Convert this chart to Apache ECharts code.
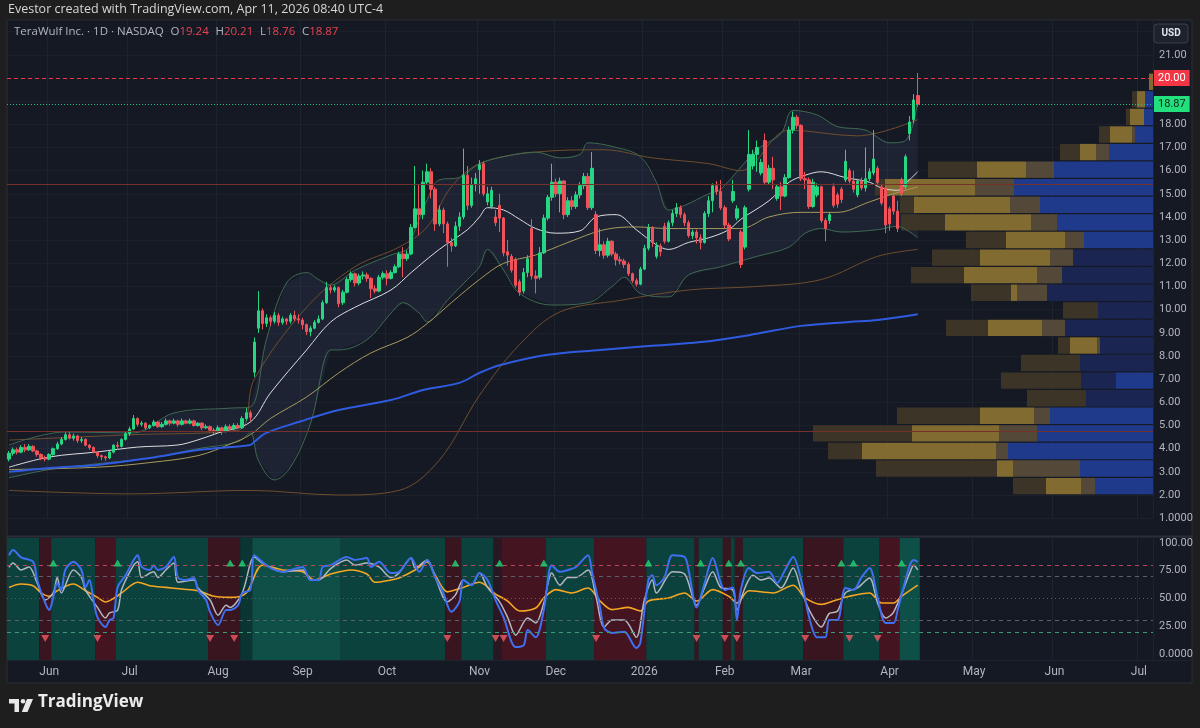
<!DOCTYPE html>
<html><head><meta charset="utf-8">
<script src="https://cdn.jsdelivr.net/npm/echarts@6/dist/echarts.min.js"></script>
<style>html,body{margin:0;padding:0;background:#1e1e1e;}#c{width:1200px;height:728px;}</style>
</head><body><div id="c"></div>
<script>
// ---------- DATA ----------
const holidays = ['2025-05-26','2025-06-19','2025-07-04','2025-09-01','2025-11-27','2025-12-25','2026-01-01','2026-01-19','2026-02-16','2026-04-03','2026-05-25','2026-06-19','2026-07-03'];
const firstDay = '2025-05-16';
const totalSlots = 285;
const monthNames = ['Jan','Feb','Mar','Apr','May','Jun','Jul','Aug','Sep','Oct','Nov','Dec'];

// [open, close, low, high]
const candles = [
[3.55,3.80,3.45,3.90],[3.80,3.95,3.70,4.05],[3.95,3.85,3.75,4.05],[3.85,4.05,3.80,4.15],[4.05,3.95,3.85,4.20],
[3.95,4.10,3.90,4.20],[4.10,3.90,3.85,4.15],[3.90,3.75,3.65,3.95],[3.75,3.60,3.50,3.80],[3.60,3.55,3.45,3.70],
[3.55,3.75,3.50,3.80],[3.75,4.00,3.70,4.05],[4.00,4.20,3.95,4.30],[4.20,4.40,4.15,4.50],[4.40,4.60,4.35,4.70],
[4.60,4.45,4.40,4.75],[4.45,4.55,4.35,4.65],[4.55,4.35,4.25,4.60],[4.35,4.40,4.25,4.50],[4.40,4.15,4.10,4.45],
[4.15,4.05,3.95,4.20],[4.05,3.85,3.80,4.10],[3.85,3.70,3.60,3.90],[3.70,3.65,3.50,3.75],[3.65,3.60,3.48,3.70],
[3.60,3.85,3.55,3.90],[3.85,4.15,3.80,4.20],[4.15,4.10,4.00,4.30],[4.10,4.40,4.05,4.45],[4.40,4.65,4.35,4.75],
[4.65,4.85,4.55,4.95],[4.85,5.30,4.80,5.45],[5.30,5.05,4.95,5.35],[5.05,5.10,4.95,5.20],[5.10,4.90,4.80,5.15],
[4.90,5.00,4.85,5.05],[5.00,5.15,4.95,5.25],[5.15,4.95,4.90,5.20],[4.95,5.05,4.90,5.15],[5.05,5.20,5.00,5.30],
[5.20,5.10,5.00,5.25],[5.10,5.20,5.05,5.30],[5.20,5.05,4.95,5.25],[5.05,5.20,5.00,5.30],[5.20,5.10,5.05,5.25],
[5.10,5.20,5.05,5.30],[5.20,5.00,4.95,5.25],[5.00,5.10,4.95,5.15],[5.10,4.90,4.80,5.15],[4.90,4.95,4.85,5.05],
[4.95,4.80,4.70,5.00],[4.80,4.75,4.65,4.90],[4.75,4.90,4.70,5.00],[4.90,4.75,4.60,4.95],[4.75,4.95,4.70,5.05],
[4.95,4.85,4.80,5.05],[4.85,5.00,4.80,5.10],[5.00,4.90,4.85,5.10],[4.90,5.30,4.85,5.40],[5.30,5.55,5.20,5.75],
[5.55,5.35,5.20,5.65],
[7.30,8.60,7.10,8.80],[9.20,9.95,9.00,10.80],[9.95,9.40,9.15,10.05],[9.40,9.65,9.25,9.80],[9.65,9.50,9.30,9.75],
[9.50,9.75,9.40,9.90],[9.75,9.45,9.30,9.85],[9.45,9.60,9.35,9.70],[9.60,9.50,9.35,9.65],[9.50,9.75,9.40,9.85],
[9.75,9.60,9.50,9.95],[9.60,9.55,9.40,9.80],[9.55,9.35,9.15,9.65],[9.35,9.05,8.90,9.40],[9.05,9.20,8.85,9.30],
[9.20,9.45,9.15,9.55],[9.45,9.60,9.40,9.75],
[9.60,10.30,9.55,10.40],[10.30,10.95,10.25,11.20],[10.95,10.85,10.70,11.05],[10.85,10.95,10.75,11.05],[10.95,10.25,10.10,11.00],
[10.30,10.75,10.20,10.85],[10.75,11.30,10.70,11.40],[11.30,11.55,11.20,11.65],[11.55,11.15,11.00,11.60],[11.15,11.45,11.05,11.55],
[11.45,11.50,11.30,11.65],[11.50,11.35,11.20,11.60],[11.35,10.90,10.50,11.40],[10.90,10.80,10.70,11.05],[10.80,11.40,10.75,11.50],
[11.40,11.55,11.30,11.65],[11.55,11.35,11.05,11.70],[11.35,11.60,11.30,11.70],[11.60,11.85,11.55,11.95],[11.85,12.40,11.80,12.50],
[12.40,12.20,11.40,12.70],[12.20,12.40,12.10,12.55],
[12.40,13.55,12.35,13.70],[13.55,14.35,13.50,16.20],[14.35,14.10,13.20,15.40],[14.10,15.50,13.90,16.00],[15.50,15.95,15.40,16.30],
[15.95,15.20,14.80,16.10],[15.20,13.70,13.40,15.30],[13.70,14.30,13.60,14.50],[14.30,13.70,13.30,14.40],[13.70,12.90,11.85,13.80],
[12.90,12.75,12.50,13.10],[12.75,13.60,12.70,13.80],[13.60,14.00,13.40,14.20],[14.00,15.80,13.90,16.95],[15.80,14.50,14.30,16.20],
[14.50,15.40,14.40,15.70],[15.40,15.65,15.10,15.90],[16.05,16.25,15.00,16.45],[16.30,15.00,14.90,16.40],[14.65,15.00,14.50,15.30],
[14.45,15.15,14.35,15.30],[14.00,13.75,13.60,14.30],[14.50,13.95,13.35,15.00],[13.95,12.45,12.30,14.00],[12.50,12.35,11.90,13.00],
[12.30,11.70,11.60,12.40],[12.15,11.05,10.95,12.25],[11.20,10.75,10.60,11.30],[10.80,11.60,10.70,11.80],[11.60,12.20,11.40,12.35],
[13.50,11.45,11.30,13.90],[11.45,11.35,10.70,11.70],[11.40,12.45,11.30,12.70],[12.45,13.95,12.40,14.10],
[13.95,14.85,13.85,14.95],[14.85,15.50,14.70,16.30],[15.50,15.00,14.85,15.65],[15.00,15.55,14.20,15.70],[15.55,14.10,13.90,15.60],
[14.10,14.70,14.00,14.85],[14.70,14.45,14.30,14.90],[14.45,14.95,14.35,15.10],[14.95,15.35,14.80,15.50],[15.35,15.75,15.20,15.90],
[15.75,14.40,14.30,15.90],[14.40,16.10,14.30,16.80],
[14.10,12.55,12.40,14.25],[12.55,12.80,12.30,13.50],[12.80,12.35,12.20,12.95],[12.35,12.95,12.25,13.10],[12.95,12.40,12.30,13.00],
[12.40,12.15,11.90,12.50],[12.15,12.10,11.95,12.30],[12.10,11.95,11.80,12.20],[11.95,11.55,11.45,12.05],[11.55,11.25,11.15,11.60],
[11.25,11.10,11.00,11.35],[11.10,11.75,11.05,11.85],
[11.75,12.65,11.70,12.80],[12.65,13.55,12.55,13.70],[13.55,12.90,12.70,13.60],[12.30,12.75,12.20,12.90],[12.75,12.50,12.30,12.85],
[13.60,12.95,12.85,13.75],[12.95,13.75,12.90,13.85],[13.75,14.15,13.60,14.30],[14.15,14.40,14.00,14.60],[14.40,14.10,13.95,14.50],
[14.10,13.75,13.60,14.20],[13.75,13.20,13.10,13.85],[13.20,13.35,13.05,13.45],[13.35,13.10,12.85,13.45],[13.10,12.90,12.60,13.25],
[12.90,14.15,12.85,14.25],[14.15,14.70,14.00,14.90],[14.70,15.35,14.20,15.45],[15.35,15.10,14.95,15.55],[15.10,14.40,14.30,15.60],
[14.40,13.65,13.50,14.50],[13.65,13.05,12.95,13.75],[14.70,15.10,14.60,15.60],[13.95,14.35,13.85,14.50],[13.35,11.95,11.80,13.45],
[12.70,14.40,12.60,14.50],[15.20,16.70,15.10,17.75],[16.20,16.70,16.05,16.90],[16.70,17.00,15.95,17.30],[15.90,16.35,15.80,16.50],
[17.30,15.50,15.40,17.60],[15.50,16.10,15.40,16.25],[16.10,15.60,15.20,16.60],[14.80,15.30,14.70,15.40],[15.30,14.90,14.30,15.50],
[14.90,15.70,14.85,15.85],[15.70,17.75,15.65,17.90],[17.75,18.30,17.60,18.55],[18.30,17.95,17.80,18.40],[17.95,15.65,15.55,18.00],
[15.65,15.60,15.20,15.95],[15.60,14.45,14.35,15.70],[14.45,15.50,14.40,15.65],[14.95,15.30,14.85,15.45],[15.30,13.85,13.75,15.35],
[13.85,13.50,12.95,13.95],[13.85,14.10,13.70,14.20],[15.30,14.50,14.40,15.45],[14.95,14.55,14.40,15.05],[15.20,14.75,14.60,15.30],
[15.60,16.40,15.50,16.90],[16.00,15.55,15.45,16.10],[15.55,15.20,15.05,16.00],[14.95,15.55,14.85,15.65],[15.55,15.25,15.15,15.70],
[15.25,15.65,15.10,17.00],[15.65,15.95,15.55,16.10],[15.90,16.50,15.80,17.75],[16.10,15.50,15.40,16.20],[15.30,14.60,14.50,15.40],
[15.25,13.65,13.30,15.35],[14.35,13.70,13.40,14.45],[14.90,14.25,14.10,15.00],[14.25,13.50,13.35,14.70],[15.60,15.00,14.90,15.70],
[15.30,16.60,15.20,16.70],[17.60,18.10,17.30,18.35],[18.20,19.05,18.05,19.30],[19.24,18.87,18.76,20.21]
];

// indicator lines: [barIndex, price]
const sma20 = [[0,3.2],[10,3.64],[22,3.86],[32,4.07],[42,4.16],[47,4.38],[52,4.68],[60,5.15],[65,6.4],[74,8.26],[80,9.47],[86,10.1],[95,10.85],[100,11.6],[107,12.6],[114,13.45],[117,14.0],[119,14.4],[123,14.3],[127,13.9],[131,13.5],[136,13.3],[142,13.4],[146,14.0],[151,14.1],[156,13.45],[161,12.8],[164,12.6],[169,12.9],[174,13.1],[179,13.45],[182,13.9],[189,14.7],[194,15.5],[198,15.8],[202,15.95],[208,15.7],[214,15.5],[217,15.25],[221,15.15],[223,15.45],[226,15.95]];
const sma50 = [[0,3.1],[22,3.2],[35,3.4],[47,3.7],[55,4.2],[60,4.6],[65,5.3],[74,6.23],[82,7.27],[90,8.13],[99,8.8],[104,9.4],[110,10.3],[117,11.3],[123,12.0],[131,12.36],[139,12.9],[148,13.45],[156,13.57],[164,13.5],[174,13.5],[182,13.5],[189,14.0],[197,14.2],[206,14.2],[214,14.65],[219,14.95],[226,15.3]];
const sma200 = [[0,3.0],[10,3.17],[22,3.3],[35,3.6],[47,3.94],[60,4.16],[61,4.3],[64,4.68],[72,5.15],[82,5.67],[95,6.1],[103,6.53],[112,6.84],[117,7.27],[122,7.6],[134,8.05],[147,8.26],[159,8.43],[172,8.6],[184,8.9],[197,9.3],[209,9.47],[216,9.55],[226,9.8]];
const bbUpper = [[0,4.16],[14,4.72],[31,4.68],[41,5.54],[55,5.75],[60,5.8],[64,8.7],[69,11.15],[74,11.6],[77,11.3],[80,11.06],[86,11.7],[95,12.36],[99,12.6],[100,13.0],[104,14.75],[107,15.6],[112,15.7],[117,16.3],[123,16.6],[131,16.8],[137,16.55],[142,16.7],[144,17.2],[151,17.0],[157,16.6],[161,15.5],[164,14.3],[168,14.5],[174,15.0],[177,15.2],[186,16.9],[192,17.6],[195,18.6],[201,18.4],[206,17.9],[213,17.75],[219,17.2],[223,17.3],[226,19.0]];
const bbLower = [[0,2.74],[10,3.1],[22,3.35],[35,3.6],[47,4.0],[57,4.3],[60,4.68],[62,3.5],[66,2.65],[70,3.2],[75,5.1],[80,8.26],[82,8.26],[89,8.7],[95,9.85],[98,10.3],[102,9.85],[104,9.47],[109,10.4],[114,11.3],[117,11.85],[119,12.6],[123,11.7],[127,10.7],[135,10.2],[144,10.3],[150,11.0],[153,11.4],[157,10.7],[164,10.55],[169,11.5],[177,11.85],[186,12.3],[194,12.7],[198,13.3],[202,13.5],[207,13.35],[216,13.45],[221,13.6],[224,13.35],[226,13.1]];
const envUpper = [[0,4.37],[30,4.6],[57,4.8],[61,7.0],[74,10.1],[86,11.85],[97,12.7],[104,13.57],[110,15.3],[117,16.3],[131,16.8],[148,16.9],[160,16.55],[174,16.3],[182,16.0],[194,17.75],[211,17.5],[226,18.2]];
const envLower = [[0,2.2],[30,2.05],[60,2.2],[82,2.0],[97,2.2],[107,3.5],[117,6.3],[127,8.5],[137,9.9],[152,10.4],[169,10.85],[186,11.0],[202,11.3],[216,12.3],[226,12.6]];
const srLevels = [15.42, 4.76];
const alertLevel = 20.00;

// volume profile rows (top row first), widths in volume units
const vpTop = 20.21, vpBottom = 2.0;
const vpBright = [0,8,9,18,44,99,139,113,96,69,0,0,0,0,0,0,0,37,0,103,116,145,73,58];
const vpNavy   = [0,0,0,0,0,0,0,0,0,0,80,91,106,55,88,53,73,35,67,0,0,0,0,0];
const vpGrey   = [0,0,0,3,13,28,39,30,26,19,23,25,30,0,23,3,0,0,0,16,38,12,67,14];
const vpGold   = [4,8,14,22,16,49,90,96,86,59,70,73,6,0,54,27,0,0,0,54,87,134,16,35];
const vpBrown  = [0,5,4,11,20,49,10,14,44,40,48,53,40,35,42,12,59,80,59,83,99,34,121,33];

// oscillator lines: [barIndex, value]
const oscBlue = [[0,89],[1,93.7],[3,87],[6,83],[7,66.7],[9,46],[10,39.6],[11,51],[12,64],[13,57.7],[14,75.7],[16,83],[18,75.7],[19,60],[20,66.7],[21,48.6],[22,33],[24,24.3],[25,30.6],[26,32.4],[27,60],[29,71],[31,84.7],[32,89],[33,78.4],[35,75.7],[36,80],[37,75.7],[39,78.4],[41,87.4],[42,69],[44,66.7],[46,68.5],[47,57.7],[49,48.6],[50,37.8],[52,26],[54,39.6],[55,39.6],[57,44],[58,55],[60,57.7],[61,89],[63,83],[65,77.5],[68,73.9],[70,75.7],[73,78.4],[75,66.7],[77,66.7],[78,78.4],[80,80],[84,87.4],[86,84.7],[89,86.5],[90,78.4],[92,83],[95,73],[97,74],[100,86.5],[102,74],[104,84.7],[106,69],[108,55],[110,38],[112,47],[113,66.7],[115,62],[117,73],[119,66.7],[121,48.6],[123,33],[126,6.3],[128,8],[129,21.6],[131,15],[133,39.6],[135,80],[137,74],[139,75.7],[141,78.4],[144,89],[145,73],[147,42],[148,23.4],[150,19],[153,20],[156,5.4],[157,10],[159,66.7],[160,71],[161,62],[163,69],[165,89],[168,87.4],[169,75.7],[171,42],[173,64],[175,86.5],[177,64],[178,57.7],[180,60],[181,30.6],[182,57.7],[184,77.5],[186,73],[189,74],[191,64],[193,75.7],[195,87.4],[197,66.7],[199,33],[201,15],[203,15],[204,30.6],[206,30.6],[208,59.5],[210,57.7],[212,69],[214,77.5],[216,51],[218,28],[220,28],[221,39.6],[224,80],[225,84.7],[226,83]];
const oscGrey = [[0,78],[1,82],[3,75.7],[5,78.4],[7,64],[9,48.6],[11,55],[12,69],[13,55],[16,75.7],[18,69],[19,57.7],[22,42],[24,32.4],[25,37],[27,39.6],[28,58],[31,80],[32,83],[33,69],[36,74],[37,69],[39,75.7],[41,82],[42,64.6],[46,66.7],[47,59.5],[50,48.6],[52,35],[54,44],[55,42],[58,55],[61,87.4],[63,82],[68,74],[73,75.7],[75,66.7],[77,66.7],[80,77],[84,84.7],[86,80],[89,82],[92,78.4],[95,69],[97,73],[100,86.5],[101,77.5],[104,84.7],[106,69],[109,47],[111,53],[113,66.7],[115,62],[117,73],[119,60],[122,47],[124,33],[126,17],[129,32.4],[131,28],[133,45.9],[135,73],[137,62],[139,69],[141,69],[144,75.7],[146,51],[148,24.3],[150,30.6],[153,30.6],[156,15],[158,48.6],[160,66.7],[161,55],[165,74],[168,72],[171,44],[173,60],[175,74],[177,60],[180,57.7],[181,39.6],[183,59.5],[185,71],[187,66.7],[189,68.5],[192,59.5],[195,77.5],[197,57.7],[199,39.6],[202,24.3],[204,36.6],[206,38.5],[208,55],[211,59.5],[214,68.5],[216,46],[218,32.4],[220,37.8],[224,73],[225,80],[226,75.7]];
const oscOrange = [[0,60],[3,63],[6,61.5],[8,55],[10,52],[12,57],[16,63],[19,57],[22,51],[24,46.8],[26,50],[28,55],[32,64.6],[35,61.5],[39,60],[43,58.5],[47,57],[51,52],[55,51],[59,55],[63,80],[68,75.7],[73,74],[76,66.7],[80,72],[85,75.7],[89,72],[91,64.6],[95,66.7],[97,68.5],[101,75.7],[104,83],[106,71],[109,56],[113,60],[117,64.6],[121,54],[124,47.7],[127,38.7],[131,41.4],[133,50.5],[136,58],[140,55],[144,59.5],[147,47.7],[150,40],[154,42],[157,38.7],[159,47.7],[164,50.5],[168,55],[171,47.7],[175,58],[179,52],[181,46],[184,57],[190,55],[195,62],[198,50.5],[202,44.7],[205,47.7],[209,52],[214,55],[217,46],[220,46],[222,52],[226,62]];
// regime zones: [fromBar, toBar, strength] (+ bullish / - bearish)
const oscZones = [[0,7,2],[8,10,-2],[11,21,2],[22,26,-3],[27,49,2],[50,57,-2],[58,60,1],[61,82,3],[83,108,2],[109,112,-2],[113,120,2],[121,122,-1],[123,133,-3],[134,145,2],[146,158,-3],[159,170,2],[171,171,-2],[172,177,2],[178,179,-2],[180,180,2],[181,182,-2],[183,197,2],[198,207,-2],[208,216,2],[217,221,-3],[222,226,3]];
const buySignals = [11,27,55,58,111,122,133,159,172,179,182,207,210,222];
const sellSignals = [9,22,50,56,109,121,123,146,171,178,181,198,209,216];
const oscLevels = [80,70,50,30,20];
const priceTicks = [1,21];

// ---------- BUILD ----------
function buildDates(){
  const out=[]; const d=new Date(firstDay+'T00:00:00Z');
  while(out.length<totalSlots){
    const w=d.getUTCDay(); const s=d.toISOString().slice(0,10);
    if(w!==0&&w!==6&&holidays.indexOf(s)<0) out.push(s);
    d.setUTCDate(d.getUTCDate()+1);
  }
  return out;
}
const dates = buildDates();
const monthStart = new Set();
for(let i=1;i<dates.length;i++){ if(dates[i].slice(0,7)!==dates[i-1].slice(0,7)) monthStart.add(i); }
const isMonthStart = (idx)=>monthStart.has(idx);
const monthLabel = (v)=>{ const m=+v.slice(5,7); return m===1 ? v.slice(0,4) : monthNames[m-1]; };

const upColor='#26d682', downColor='#f0525a';
const zoneColor = {'1':'#0b3532','2':'#0c423d','3':'#0e5047','-1':'#291722','-2':'#39151f','-3':'#441421'};
const vpColors = ['#213d93','#1b2756','#594e3a','#8a7233','#3e3728'];
const vpRows = vpBright.length;
const vpStep = (vpTop - vpBottom)/vpRows;
const last = candles[candles.length-1];
const oscTop = 104.5, oscBot = -5.4;

const labelFont = 'Roboto, "Open Sans", sans-serif';

const option = {
  backgroundColor:'#1e1e1e',
  animation:false,
  textStyle:{fontFamily:labelFont},
  grid:[
    {left:7, right:47, top:20, height:498.2},
    {left:7, right:47, top:538, height:122}
  ],
  xAxis:[
    {type:'category', gridIndex:0, data:dates, boundaryGap:true, axisLine:{show:false}, axisTick:{show:false}, axisLabel:{show:false},
     splitLine:{show:true, interval:isMonthStart, lineStyle:{color:'#1e2330', width:1}}},
    {type:'value', gridIndex:0, min:0, max:1146, inverse:true, show:false},
    {type:'category', gridIndex:1, data:dates, boundaryGap:true, axisLine:{show:false}, axisTick:{show:false},
     axisLabel:{interval:isMonthStart, formatter:monthLabel, color:'#b2b5be', fontSize:12, margin:6, fontFamily:labelFont},
     splitLine:{show:true, interval:isMonthStart, lineStyle:{color:'#1e2330', width:1}}}
  ],
  yAxis:[
    {type:'value', gridIndex:0, position:'right', min:priceTicks[0], max:22.5, interval:1, axisLine:{show:false}, axisTick:{show:false},
     axisLabel:{color:'#b2b5be', fontSize:11, margin:6, fontFamily:labelFont,
       formatter:(v)=>{ const r=Math.round(v); if(Math.abs(v-r)>1e-6||r<priceTicks[0]||r>priceTicks[1]) return ''; return r===1?'1.0000':r.toFixed(2);} },
     splitLine:{show:true, lineStyle:{color:'#1b202b'}}},
    {type:'value', gridIndex:1, position:'right', min:oscBot, max:oscTop, axisLine:{show:false}, axisTick:{show:false},
     axisLabel:{color:'#b2b5be', fontSize:11, margin:6, fontFamily:labelFont, customValues:[0,25,50,75,100],
       formatter:(v)=> v===0?'0.0000':v.toFixed(2)},
     splitLine:{show:false}}
  ],
  graphic:[
    {type:'rect', z:-100, silent:true, shape:{x:7,y:20,width:1185,height:663}, style:{fill:'#151924', stroke:'#2a2e39', lineWidth:1}},
    {type:'line', z:100, silent:true, shape:{x1:7,y1:536.5,x2:1192,y2:536.5}, style:{stroke:'#2a2e39', lineWidth:2}},
    {type:'line', z:100, silent:true, shape:{x1:7,y1:660.5,x2:1192,y2:660.5}, style:{stroke:'#1f2330', lineWidth:1}},
    {type:'text', z:100, left:8, top:3, style:{text:'Evestor created with TradingView.com, Apr 11, 2026 08:40 UTC-4', fill:'#d6d6d6', font:'12.5px "Open Sans", sans-serif'}},
    {type:'text', z:100, left:14, top:26, style:{
      text:'{n|TeraWulf Inc. · 1D · NASDAQ}  {k|O}{v|'+last[0].toFixed(2)+'}  {k|H}{v|'+last[3].toFixed(2)+'}  {k|L}{v|'+last[2].toFixed(2)+'}  {k|C}{v|'+last[1].toFixed(2)+'}',
      rich:{n:{fill:'#b2b5be',fontSize:11.5,fontFamily:'"Open Sans", sans-serif'},k:{fill:'#b2b5be',fontSize:11.5,fontFamily:'"Open Sans", sans-serif'},v:{fill:'#e8434f',fontSize:11.5,fontFamily:'"Open Sans", sans-serif'}}}},
    {type:'rect', z:100, silent:true, shape:{x:1154,y:24,width:34,height:19,r:3}, style:{fill:'#1e222d', stroke:'#3a3e4a', lineWidth:1}},
    {type:'text', z:101, x:1171, y:33.5, style:{text:'USD', fill:'#e0e3eb', font:'bold 10px Roboto, sans-serif', align:'center', verticalAlign:'middle'}},
    {type:'rect', z:100, shape:{x:9,y:699,width:10,height:4.5}, style:{fill:'#e8e8e8'}},
    {type:'rect', z:100, shape:{x:14.5,y:699,width:4.5,height:13}, style:{fill:'#e8e8e8'}},
    {type:'circle', z:100, shape:{cx:23,cy:701.3,r:2.3}, style:{fill:'#e8e8e8'}},
    {type:'polygon', z:100, shape:{points:[[27,699],[33,699],[27.5,712],[21.8,712]]}, style:{fill:'#e8e8e8'}},
    {type:'text', z:100, left:38, top:694, style:{text:'TradingView', fill:'#ececec', font:'bold 17px "Open Sans", sans-serif'}}
  ],
  series:[
    {type:'custom', name:'bbfill', xAxisIndex:0, yAxisIndex:0, z:1, silent:true, data:[[0,0]],
     renderItem:(p,api)=>{
       const pts=[]; bbUpper.forEach(d=>pts.push(api.coord(d)));
       for(let k=bbLower.length-1;k>=0;k--) pts.push(api.coord(bbLower[k]));
       return {type:'polygon', shape:{points:pts}, style:{fill:'rgba(110,140,195,0.09)'}};
     }},
    {type:'line', name:'levels', xAxisIndex:0, yAxisIndex:0, z:1, data:[], silent:true,
     markLine:{silent:true, symbol:['none','none'], animation:false, label:{show:false},
       data:srLevels.map(v=>({yAxis:v, lineStyle:{color:'#75302a', width:1, type:'solid'}}))}},
    {type:'custom', name:'vp', xAxisIndex:1, yAxisIndex:0, z:2, silent:true,
     data:vpBright.map((_,k)=>[k,k]),
     renderItem:(p,api)=>{
       const k=p.dataIndex; const top=vpTop-k*vpStep, bot=top-vpStep;
       const segs=[vpBright[k],vpNavy[k],vpGrey[k],vpGold[k],vpBrown[k]];
       let acc=0; const children=[];
       segs.forEach((w,j)=>{
         if(w>0){ const a=api.coord([acc,top]), b=api.coord([acc+w,bot]);
           children.push({type:'rect', shape:{x:Math.min(a[0],b[0]), y:a[1]+0.5, width:Math.abs(a[0]-b[0]), height:b[1]-a[1]-1.2}, style:{fill:vpColors[j], opacity:0.93}}); }
         acc+=w;
       });
       return {type:'group', children};
     }},
    {type:'line', name:'envU', xAxisIndex:0, yAxisIndex:0, z:3, data:envUpper, smooth:0.35, showSymbol:false, lineStyle:{color:'#6f4d2e', width:1}},
    {type:'line', name:'envL', xAxisIndex:0, yAxisIndex:0, z:3, data:envLower, smooth:0.35, showSymbol:false, lineStyle:{color:'#6f4d2e', width:1}},
    {type:'line', name:'bbU', xAxisIndex:0, yAxisIndex:0, z:3, data:bbUpper, smooth:0.35, showSymbol:false, lineStyle:{color:'#3f6a52', width:1}},
    {type:'line', name:'bbL', xAxisIndex:0, yAxisIndex:0, z:3, data:bbLower, smooth:0.35, showSymbol:false, lineStyle:{color:'#3f6a52', width:1}},
    {type:'line', name:'sma50', xAxisIndex:0, yAxisIndex:0, z:3, data:sma50, smooth:0.35, showSymbol:false, lineStyle:{color:'#a69a5c', width:1}},
    {type:'line', name:'sma20', xAxisIndex:0, yAxisIndex:0, z:3, data:sma20, smooth:0.35, showSymbol:false, lineStyle:{color:'#dcdde2', width:1}},
    {type:'line', name:'sma200', xAxisIndex:0, yAxisIndex:0, z:3, data:sma200, smooth:0.35, showSymbol:false, lineStyle:{color:'#2f5be0', width:2}},
    {type:'candlestick', name:'WULF', xAxisIndex:0, yAxisIndex:0, z:4, data:candles, barWidth:3,
     itemStyle:{color:upColor, color0:downColor, borderColor:upColor, borderColor0:downColor, borderWidth:1},
     markLine:{silent:true, symbol:['none','none'], animation:false, data:[
       {yAxis:alertLevel, lineStyle:{color:'#f23645', type:[4,3], width:1},
        label:{show:true, position:'end', formatter:alertLevel.toFixed(2), color:'#ffffff', backgroundColor:'#f23645', padding:[3,4,2,4], fontSize:11, distance:1, fontFamily:labelFont}},
       {yAxis:last[1], lineStyle:{color:'#2bbf86', type:[1,2], width:1},
        label:{show:true, position:'end', formatter:last[1].toFixed(2), color:'#10221a', backgroundColor:'#22e07c', padding:[3,4,2,4], fontSize:11, distance:1, fontFamily:labelFont}}
     ]}},
    {type:'custom', name:'zones', xAxisIndex:2, yAxisIndex:1, z:1, silent:true, encode:{x:[0,1]},
     data:oscZones.map(z=>[z[0],z[1],z[2]]),
     renderItem:(p,api)=>{
       const z=oscZones[p.dataIndex]; const w=api.size([1,0])[0];
       const a=api.coord([z[0],oscTop]), b=api.coord([z[1],oscBot]);
       return {type:'rect', shape:{x:a[0]-w/2, y:a[1], width:b[0]-a[0]+w, height:b[1]-a[1]}, style:{fill:zoneColor[String(z[2])]}};
     }},
    {type:'line', name:'oscLevels', xAxisIndex:2, yAxisIndex:1, z:2, data:[], silent:true,
     markLine:{silent:true, symbol:['none','none'], animation:false, label:{show:false},
       data:oscLevels.map(v=>({yAxis:v, lineStyle:{
         color: v===80?'#b8475e':(v===20?'#3f9a78':'#5d606b'),
         type: v===50?[1,3]:[4,4], width:1}}))}},
    {type:'line', name:'oscOrange', xAxisIndex:2, yAxisIndex:1, z:3, data:oscOrange, smooth:0.3, showSymbol:false, lineStyle:{color:'#f5a623', width:1.6}},
    {type:'line', name:'oscGrey', xAxisIndex:2, yAxisIndex:1, z:3, data:oscGrey, smooth:0.3, showSymbol:false, lineStyle:{color:'#b4b6c0', width:1.5}},
    {type:'line', name:'oscBlue', xAxisIndex:2, yAxisIndex:1, z:3, data:oscBlue, smooth:0.3, showSymbol:false, lineStyle:{color:'#3f6ff2', width:2}},
    {type:'scatter', name:'buy', xAxisIndex:2, yAxisIndex:1, z:5, data:buySignals.map(i=>[i,82]), symbol:'triangle', symbolSize:[8,7], itemStyle:{color:'#22d675'}},
    {type:'scatter', name:'sell', xAxisIndex:2, yAxisIndex:1, z:5, data:sellSignals.map(i=>[i,14]), symbol:'triangle', symbolRotate:180, symbolSize:[8,7], itemStyle:{color:'#f05a64'}}
  ]
};
const chart = echarts.init(document.getElementById('c'), null, {renderer:'canvas'});
chart.setOption(option);
</script></body></html>
